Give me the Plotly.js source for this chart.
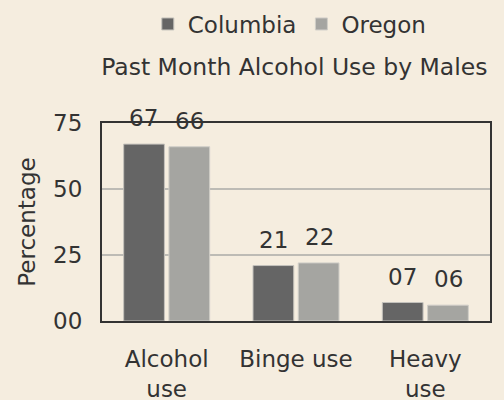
<!DOCTYPE html>
<html>
<head>
<meta charset="utf-8">
<script src="https://cdn.plot.ly/plotly-3.0.1.min.js"></script>
<style>html,body{margin:0;padding:0;background:#f5eddf;}</style>
</head>
<body>
<div id="chart" style="width:504px;height:400px;"></div>
<script>
const categories = ["Alcohol<br>use", "Binge use", "Heavy<br>use"];
const columbia = [67, 21, 7];
const oregon = [66, 22, 6];
const columbiaLabels = ["67", "21", "07"];
const oregonLabels = ["66", "22", "06"];
const yTickVals = [0, 25, 50, 75];
const yTickText = ["00", "25", "50", "75"];

const FONT = "DejaVu Sans, Arial, sans-serif";
const TXT = "#333333";
const FS = 23;

const traces = [
  {type: "bar", name: "Columbia", x: categories, y: columbia,
   marker: {color: "#656565", line: {color: "#c4c2bc", width: 1}}, hoverinfo: "none"},
  {type: "bar", name: "Oregon", x: categories, y: oregon,
   marker: {color: "#a5a5a1", line: {color: "#d0cec8", width: 1}}, hoverinfo: "none"}
];

const annotations = [];
categories.forEach((c, i) => {
  annotations.push({x: c, y: columbia[i], text: columbiaLabels[i], showarrow: false,
    xanchor: "center", yanchor: "middle", xshift: -23, yshift: 26,
    font: {family: FONT, size: FS, color: TXT}});
  annotations.push({x: c, y: oregon[i], text: oregonLabels[i], showarrow: false,
    xanchor: "center", yanchor: "middle", xshift: 23, yshift: 26,
    font: {family: FONT, size: FS, color: TXT}});
});

const layout = {
  width: 504, height: 400,
  paper_bgcolor: "#f5eddf", plot_bgcolor: "#f5eddf",
  margin: {l: 102, r: 14, t: 123, b: 79, pad: 0},
  font: {family: FONT, size: FS, color: TXT},
  title: {text: "Past Month Alcohol Use by Males", x: 0.584, xanchor: "center",
          y: 0.832, yanchor: "middle", font: {family: FONT, size: 23.5, color: TXT}},
  showlegend: true,
  legend: {orientation: "h", xref: "container", yref: "container",
           x: 0.575, xanchor: "center", y: 0.94, yanchor: "middle",
           font: {family: FONT, size: FS, color: TXT}, bgcolor: "rgba(0,0,0,0)",
           itemwidth: 30, tracegroupgap: 0},
  barmode: "group", bargap: 0.3, bargroupgap: 0.1,
  xaxis: {showline: true, mirror: true, linecolor: "#333333", linewidth: 2,
          showgrid: false, ticks: "", tickfont: {family: FONT, size: FS, color: TXT},
          ticklabelstandoff: 16, fixedrange: true},
  yaxis: {range: [0, 75], tickvals: yTickVals, ticktext: yTickText,
          showline: true, mirror: true, linecolor: "#333333", linewidth: 2,
          showgrid: true, gridcolor: "#bdbbb5", gridwidth: 2, zeroline: false,
          ticks: "", ticklabelstandoff: 13, tickfont: {family: FONT, size: FS, color: TXT},
          title: {text: "Percentage", standoff: 11, font: {family: FONT, size: FS, color: TXT}},
          fixedrange: true},
  annotations: annotations
};

Plotly.newPlot("chart", traces, layout, {displayModeBar: false, staticPlot: true});
</script>
</body>
</html>
